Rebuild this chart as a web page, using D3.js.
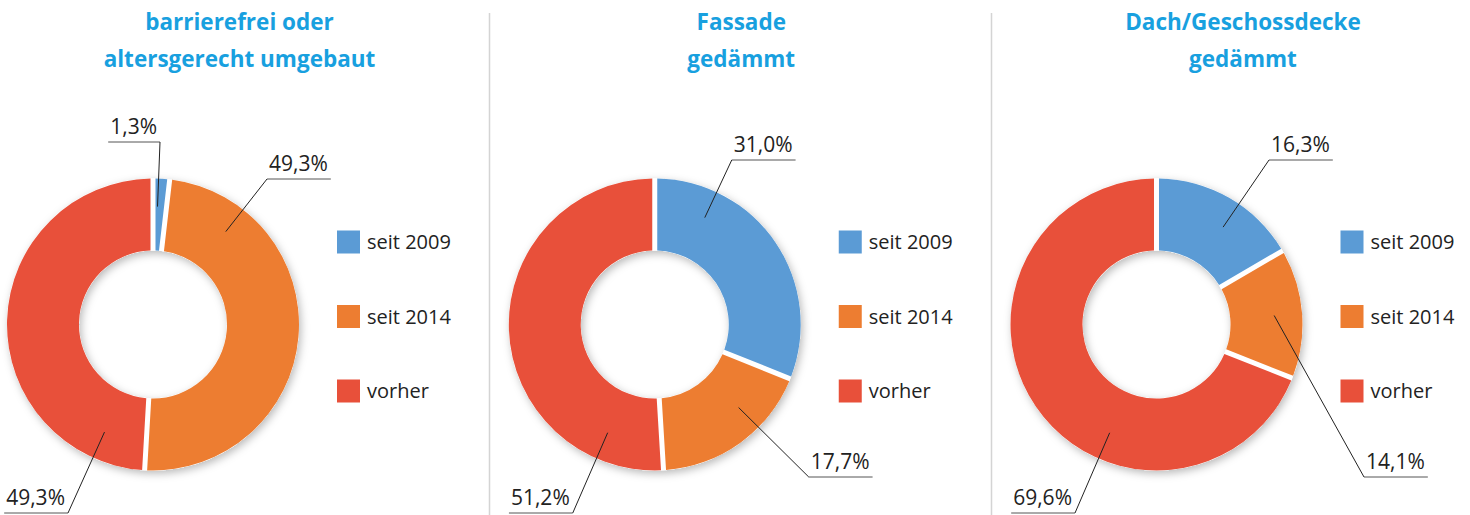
<!DOCTYPE html>
<html>
<head>
<meta charset="utf-8">
<script src="https://cdn.jsdelivr.net/npm/d3@7"></script>
<style>
  body { margin: 0; background: #fff; }
  svg { display: block; font-family: "Open Sans", "Noto Sans", sans-serif; }
</style>
</head>
<body>
<svg id="chart" width="1470" height="515"></svg>
<script>
const categories = ["seit 2009", "seit 2014", "vorher"];
const titles = [
    ["barrierefrei oder", "altersgerecht umgebaut"],
    ["Fassade", "gedämmt"],
    ["Dach/Geschossdecke", "gedämmt"]
];
const barrierefrei = [1.3, 49.3, 49.3];
const fassade = [31.0, 17.7, 51.2];
const dach = [16.3, 14.1, 69.6];
const series = [barrierefrei, fassade, dach];

// where each label's underline elbow sits, relative to the donut centre
const labelAt = [
    [{dx: 7, dy: -182.5, anchor: "end"}, {dx: 114, dy: -145.5, anchor: "start"}, {dx: -85, dy: 188.5, anchor: "end"}],
    [{dx: 77, dy: -164.5, anchor: "start"}, {dx: 154, dy: 152.5, anchor: "start"}, {dx: -82, dy: 188.5, anchor: "end"}],
    [{dx: 112.5, dy: -164.5, anchor: "start"}, {dx: 207.5, dy: 152.5, anchor: "start"}, {dx: -81.5, dy: 188.5, anchor: "end"}]
];

const colors = d3.scaleOrdinal()
    .domain(categories)
    .range(["#5b9bd5", "#ed7d31", "#e8503a"]);

const centers = d3.scalePoint()
    .domain(d3.range(series.length))
    .range([153, 1156.5]);

const cy = 324.5;
const outerR = 146, innerR = 74, lineR = 118;
const gap = 5;

const svg = d3.select("#chart");

const defs = svg.append("defs");
defs.append("filter")
    .attr("id", "shadow")
    .attr("x", "-20%").attr("y", "-20%")
    .attr("width", "140%").attr("height", "140%")
    .append("feDropShadow")
    .attr("dx", 2).attr("dy", 3)
    .attr("stdDeviation", 4)
    .attr("flood-color", "#000")
    .attr("flood-opacity", 0.28);

// separators
[489.5, 991.5].forEach(x => {
    svg.append("line")
        .attr("x1", x).attr("x2", x)
        .attr("y1", 13).attr("y2", 515)
        .attr("stroke", "#d4d4d4")
        .attr("stroke-width", 1.5);
});

const pie = d3.pie().sort(null).value(d => d).padAngle(gap / outerR);
const arc = d3.arc().innerRadius(innerR).outerRadius(outerR).padRadius(outerR);
const ring = d3.arc().innerRadius(innerR).outerRadius(outerR)
    .startAngle(0).endAngle(2 * Math.PI);
const fmt = v => d3.format(".1f")(v).replace(".", ",") + "%";

series.forEach((values, k) => {
    const cx = centers(k);
    const g = svg.append("g").attr("transform", `translate(${cx},${cy})`);

    // title
    const t = svg.append("text")
        .attr("x", cx + 86.5)
        .attr("text-anchor", "middle")
        .attr("font-size", "22.5px")
        .attr("font-weight", "bold")
        .attr("fill", "#18a0df");
    titles[k].forEach((line, i) => {
        t.append("tspan")
            .attr("x", cx + 86.5)
            .attr("y", 29.5 + i * 37)
            .text(line);
    });

    const arcs = pie(values);

    // shadow under the whole ring, then a white ring so the gaps stay white
    g.append("path").attr("d", ring()).attr("fill", "#fff").attr("filter", "url(#shadow)");
    g.append("path").attr("d", ring()).attr("fill", "#fff");

    g.append("g")
        .selectAll("path")
        .data(arcs)
        .join("path")
        .attr("d", arc)
        .attr("fill", (d, i) => colors(categories[i]));

    // labels with leader lines
    arcs.forEach((d, i) => {
        const lab = labelAt[k][i];
        let a = Math.atan2(lab.dx, -lab.dy);
        if (a < 0) a += 2 * Math.PI;
        if (a < d.startAngle + 0.03 || a > d.endAngle - 0.03) {
            a = (d.startAngle + d.endAngle) / 2;
        }
        const px = lineR * Math.sin(a), py = -lineR * Math.cos(a);

        const txt = g.append("text")
            .attr("x", lab.anchor === "start" ? lab.dx + 2 : lab.dx - 3)
            .attr("y", lab.dy - 8)
            .attr("text-anchor", lab.anchor)
            .attr("font-size", "21px")
            .attr("fill", "#222")
            .text(fmt(values[i]));
        const w = txt.node().getComputedTextLength() + 5;
        const x0 = lab.anchor === "start" ? lab.dx : lab.dx - w;

        g.append("line")
            .attr("x1", x0).attr("x2", x0 + w)
            .attr("y1", lab.dy).attr("y2", lab.dy)
            .attr("stroke", "#555").attr("stroke-width", 1);
        g.append("line")
            .attr("x1", lab.dx).attr("y1", lab.dy)
            .attr("x2", px).attr("y2", py)
            .attr("stroke", "#222").attr("stroke-width", 1);
    });

    // legend
    const leg = g.append("g").attr("transform", "translate(184,0)");
    const ly = d3.scalePoint().domain(categories).range([-82.5, 66.5]);
    categories.forEach(c => {
        leg.append("rect")
            .attr("x", 0).attr("y", ly(c) - 11.5)
            .attr("width", 23).attr("height", 23)
            .attr("fill", colors(c));
        leg.append("text")
            .attr("x", 30).attr("y", ly(c))
            .attr("dy", "0.35em")
            .attr("font-size", "20px")
            .attr("fill", "#222")
            .text(c);
    });
});
</script>
</body>
</html>
